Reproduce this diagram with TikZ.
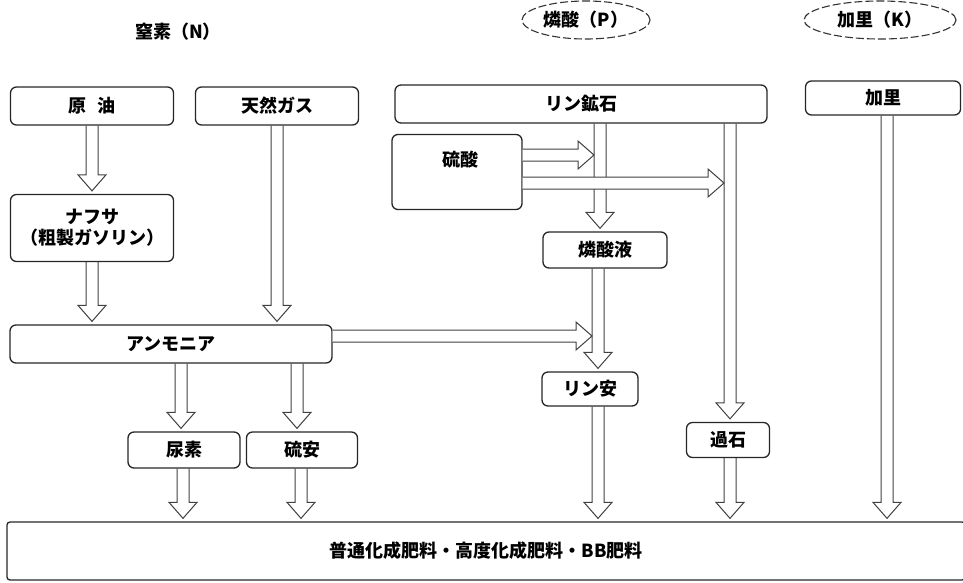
\documentclass[tikz,border=0pt]{standalone}
\usepackage{fontspec}
\setmainfont{Noto Sans CJK JP}
\usetikzlibrary{calc,shapes.geometric}
\newcommand{\vflow}[2]{%
  \draw[flowline] let \p1=(#1), \p2=(#2) in
    (\x1-6pt,\y1) -- (\x1-6pt,\y2+19pt) -- (\x1-14pt,\y2+19pt) -- (\x1,\y2+3pt)
    -- (\x1+14pt,\y2+19pt) -- (\x1+6pt,\y2+19pt) -- (\x1+6pt,\y1);}
\newcommand{\hflow}[2]{%
  \draw[flowline,fill=white] let \p1=(#1), \p2=(#2) in
    (\x1,\y1+6pt) -- (\x2-16pt,\y1+6pt) -- (\x2-16pt,\y1+14pt) -- (\x2,\y1)
    -- (\x2-16pt,\y1-14pt) -- (\x2-16pt,\y1-6pt) -- (\x1,\y1-6pt);}
\begin{document}
\begin{tikzpicture}[x=1pt,y=-1pt,font=\fontsize{18}{21}\selectfont\bfseries,
  box/.style={draw=black!85,line width=1.3pt,rounded corners=6pt,inner sep=0pt},
  flowline/.style={draw=black!75,line width=1pt,line join=miter},
  ell/.style={draw=black!80,line width=1.1pt,dash pattern=on 8pt off 3pt,ellipse,inner sep=0pt}]
\useasboundingbox (0,0) rectangle (963,582);
% headings
\node (N) at (178,32) {窒素（N）};
\node[ell,minimum width=128pt,minimum height=38pt] (P) at (586,20) {燐酸（P）};
\node[ell,minimum width=152pt,minimum height=38pt] (K) at (880,20) {加里（K）};
% boxes
\node[box,minimum width=163pt,minimum height=38pt] (oil) at (92,106) {原\hspace{0.6em}油};
\node[box,minimum width=163pt,minimum height=38pt] (gas) at (277,106) {天然ガス};
\node[box,minimum width=372pt,minimum height=38pt] (rock) at (581,104) {リン鉱石};
\node[box,minimum width=155pt,minimum height=34pt] (kbox) at (883,98) {加里};
\node[box,minimum width=130pt,minimum height=75pt] (acid) at (457,172) {};
\node (acidt) at (460,160) {硫酸};
\node[box,minimum width=124pt,minimum height=36pt] (pacid) at (605,250) {燐酸液};
\node[box,minimum width=163pt,minimum height=67pt,align=center] (naph) at (92,228) {ナフサ\\（粗製ガソリン）};
\node[box,minimum width=322pt,minimum height=38pt] (nh3) at (171,344) {アンモニア};
\node[box,minimum width=112pt,minimum height=36pt] (urea) at (184,450) {尿素};
\node[box,minimum width=111pt,minimum height=36pt] (amsul) at (302,450) {硫安};
\node[box,minimum width=96pt,minimum height=34pt] (map) at (590,389) {リン安};
\node[box,minimum width=83pt,minimum height=35pt] (sps) at (728,440) {過石};
\node[box,rounded corners=3pt,minimum width=958pt,minimum height=58pt] (fert) at (486,551) {普通化成肥料・高度化成肥料・BB肥料};
% columns
\coordinate (c1) at (92,0);
\coordinate (c2) at (277,0);
\coordinate (c3) at (181,0);
\coordinate (c4) at (297,0);
\coordinate (c5) at (183,0);
\coordinate (c6) at (301,0);
\coordinate (c7) at (600,0);
\coordinate (c8) at (598,0);
\coordinate (c9) at (730,0);
\coordinate (c10) at (887,0);
% vertical flows
\vflow{oil.south -| c1}{naph.north -| c1}
\vflow{naph.south -| c1}{nh3.north -| c1}
\vflow{gas.south -| c2}{nh3.north -| c2}
\vflow{nh3.south -| c3}{urea.north -| c3}
\vflow{nh3.south -| c4}{amsul.north -| c4}
\vflow{urea.south -| c5}{fert.north -| c5}
\vflow{amsul.south -| c6}{fert.north -| c6}
\vflow{rock.south -| c7}{pacid.north -| c7}
\vflow{pacid.south -| c8}{map.north -| c8}
\vflow{map.south -| c8}{fert.north -| c8}
\vflow{rock.south -| c9}{sps.north -| c9}
\vflow{sps.south -| c9}{fert.north -| c9}
\vflow{kbox.south -| c10}{fert.north -| c10}
% horizontal flows
\coordinate (h1) at (0,155);
\coordinate (t1) at (594,155);
\coordinate (h2) at (0,183);
\coordinate (t2) at (724,183);
\coordinate (h3) at (0,336);
\coordinate (t3) at (592,336);
\hflow{acid.east |- h1}{t1}
\hflow{acid.east |- h2}{t2}
\hflow{nh3.east |- h3}{t3}
\end{tikzpicture}
\end{document}
